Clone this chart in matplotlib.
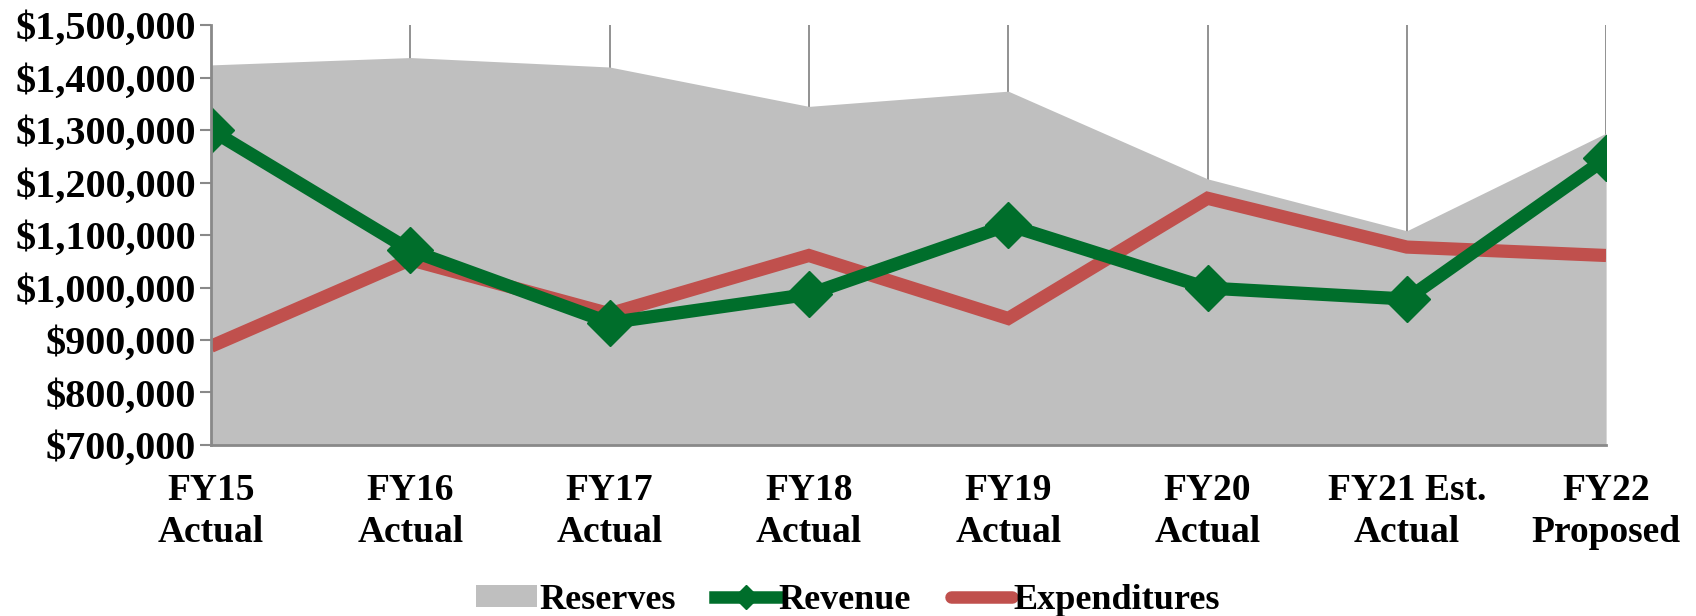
import matplotlib.pyplot as plt
from matplotlib.ticker import FuncFormatter
from matplotlib.patches import Patch
from matplotlib.lines import Line2D

years = ["FY15\nActual", "FY16\nActual", "FY17\nActual", "FY18\nActual",
         "FY19\nActual", "FY20\nActual", "FY21 Est.\nActual", "FY22\nProposed"]
reserves = [1424000, 1438000, 1420000, 1345000, 1374000, 1207000, 1108000, 1294000]
revenue = [1300000, 1071000, 933000, 987000, 1119000, 999000, 978000, 1246000]
expenditures = [888000, 1053000, 950000, 1061000, 941000, 1170000, 1077000, 1061000]
yticks = list(range(700000, 1500001, 100000))

plt.rcParams["font.family"] = ["Liberation Serif", "DejaVu Serif"]
plt.rcParams["font.weight"] = "bold"

GRAY = "#BFBFBF"
GREEN = "#006E2B"
RED = "#C0504D"
AXIS = "#898989"

fig = plt.figure(figsize=(16.96, 6.16), dpi=100)
ax = fig.add_axes([0.1244, 0.2776, 0.8226, 0.6818])

x = list(range(len(years)))
ax.fill_between(x, 700000, reserves, color=GRAY, lw=0, zorder=2)
ax.plot(x, revenue, color=GREEN, lw=9.5, marker="D", markersize=23,
        solid_joinstyle="miter", zorder=4)
ax.plot(x, expenditures, color=RED, lw=9.5, solid_joinstyle="miter",
        solid_capstyle="butt", zorder=3)

ax.set_xlim(0, len(years) - 1)
ax.set_ylim(700000, 1500000)
ax.set_yticks(yticks)
ax.yaxis.set_major_formatter(FuncFormatter(lambda v, p: f"${v:,.0f}"))
ax.set_xticks(x)
ax.set_xticklabels(years)

ax.grid(axis="x", color=AXIS, lw=1.3, zorder=1)
ax.set_axisbelow(True)
for s in ["top", "right"]:
    ax.spines[s].set_visible(False)
for s in ["left", "bottom"]:
    ax.spines[s].set_color(AXIS)
    ax.spines[s].set_linewidth(2)
    ax.spines[s].set_zorder(5)

ax.tick_params(axis="y", direction="out", length=8, width=1.5, color=AXIS,
               labelsize=29, pad=3)
ax.tick_params(axis="x", length=0, labelsize=27, pad=20)
for lab in ax.get_xticklabels() + ax.get_yticklabels():
    lab.set_fontweight("bold")
for lab in ax.get_xticklabels():
    lab.set_linespacing(1.25)

handles = [
    Patch(facecolor=GRAY, edgecolor="none", label="Reserves"),
    Line2D([], [], color=GREEN, lw=9, marker="D", markersize=12, label="Revenue"),
    Line2D([], [], color=RED, lw=9, solid_capstyle="round", label="Expenditures"),
]
fig.legend(handles=handles, loc="center", bbox_to_anchor=(0.5, 0.025), ncol=3,
           frameon=False, prop={"size": 26, "weight": "bold"},
           handlelength=1.7, handleheight=0.55, handletextpad=0.05,
           columnspacing=1.1)

fig.savefig("out.png", dpi=100)
